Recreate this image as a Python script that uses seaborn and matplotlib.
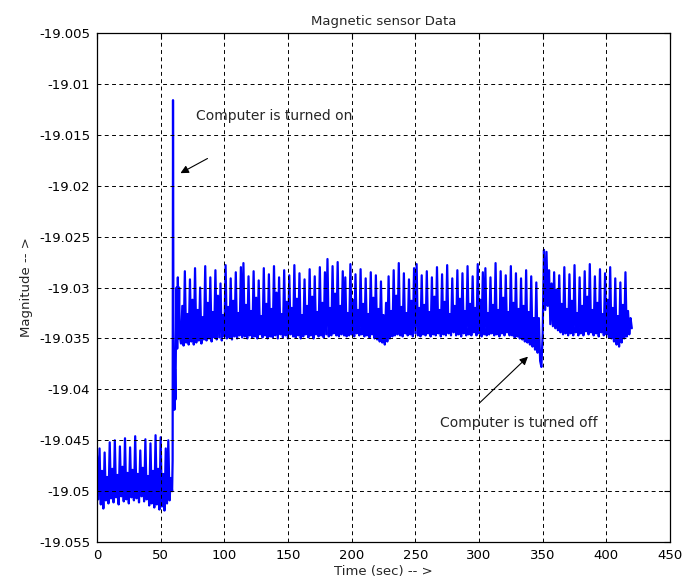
import numpy as np
import matplotlib
matplotlib.use("Agg")
import matplotlib.pyplot as plt
import seaborn as sns

# --- data ---
# computer off (1 s steps, t = 0..58)
before_t = np.arange(0, 59)
before_v = [
    -19.0465, -19.0508, -19.0458, -19.0513, -19.0480, -19.0517, -19.0462, -19.0509, -19.0486, -19.0512,
    -19.0452, -19.0507, -19.0478, -19.0511, -19.0450, -19.0506, -19.0484, -19.0513, -19.0456, -19.0505,
    -19.0476, -19.0510, -19.0448, -19.0508, -19.0482, -19.0512, -19.0457, -19.0506, -19.0479, -19.0509,
    -19.0446, -19.0507, -19.0483, -19.0511, -19.0460, -19.0505, -19.0477, -19.0510, -19.0449, -19.0508,
    -19.0485, -19.0514, -19.0453, -19.0512, -19.0480, -19.0516, -19.0445, -19.0513, -19.0478, -19.0518,
    -19.0447, -19.0515, -19.0483, -19.0519, -19.0458, -19.0512, -19.0450, -19.0509, -19.0487,
]

# switch-on transient
turn_on_t = [59.0, 59.4, 59.7, 60.0, 60.4, 60.8, 61.2, 61.6, 62.0, 62.5, 63.0, 63.5, 64.0, 64.5, 65.0]
turn_on_v = [-19.0500, -19.0470, -19.0116, -19.0320, -19.0395, -19.0420, -19.0380, -19.0410,
             -19.0355, -19.0300, -19.0360, -19.0290, -19.0350, -19.0300, -19.0348]

# computer on, switched off near 348 s (1 s steps, t = 66..420)
running_t = np.arange(66, 421)
running_v = [
    -19.0355, -19.0318, -19.0357, -19.0284, -19.0354, -19.0326, -19.0356, -19.0292, -19.0353, -19.0312,
    -19.0356, -19.0281, -19.0354, -19.0322, -19.0352, -19.0300, -19.0355, -19.0329, -19.0351, -19.0279,
    -19.0352, -19.0315, -19.0350, -19.0290, -19.0353, -19.0324, -19.0349, -19.0283, -19.0351, -19.0308,
    -19.0349, -19.0296, -19.0352, -19.0327, -19.0348, -19.0278, -19.0350, -19.0319, -19.0349, -19.0291,
    -19.0351, -19.0313, -19.0348, -19.0285, -19.0350, -19.0325, -19.0347, -19.0280, -19.0349, -19.0276,
    -19.0348, -19.0317, -19.0350, -19.0289, -19.0347, -19.0323, -19.0349, -19.0284, -19.0348, -19.0310,
    -19.0350, -19.0293, -19.0346, -19.0328, -19.0349, -19.0281, -19.0347, -19.0316, -19.0350, -19.0287,
    -19.0348, -19.0321, -19.0349, -19.0279, -19.0347, -19.0305, -19.0350, -19.0290, -19.0346, -19.0326,
    -19.0349, -19.0283, -19.0347, -19.0314, -19.0350, -19.0288, -19.0346, -19.0320, -19.0348, -19.0278,
    -19.0349, -19.0311, -19.0347, -19.0286, -19.0350, -19.0327, -19.0348, -19.0292, -19.0346, -19.0318,
    -19.0349, -19.0282, -19.0347, -19.0309, -19.0350, -19.0289, -19.0346, -19.0324, -19.0348, -19.0280,
    -19.0347, -19.0315, -19.0349, -19.0285, -19.0346, -19.0272, -19.0348, -19.0320, -19.0347, -19.0279,
    -19.0345, -19.0306, -19.0347, -19.0275, -19.0348, -19.0318, -19.0346, -19.0284, -19.0347, -19.0290,
    -19.0348, -19.0325, -19.0347, -19.0277, -19.0346, -19.0312, -19.0348, -19.0287, -19.0345, -19.0322,
    -19.0347, -19.0282, -19.0346, -19.0316, -19.0348, -19.0291, -19.0347, -19.0326, -19.0349, -19.0285,
    -19.0346, -19.0310, -19.0350, -19.0288, -19.0351, -19.0321, -19.0353, -19.0294, -19.0354, -19.0327,
    -19.0356, -19.0315, -19.0353, -19.0289, -19.0350, -19.0323, -19.0348, -19.0283, -19.0347, -19.0308,
    -19.0346, -19.0276, -19.0347, -19.0319, -19.0348, -19.0286, -19.0345, -19.0325, -19.0347, -19.0292,
    -19.0346, -19.0313, -19.0348, -19.0281, -19.0345, -19.0277, -19.0347, -19.0320, -19.0348, -19.0288,
    -19.0346, -19.0317, -19.0347, -19.0284, -19.0345, -19.0324, -19.0348, -19.0290, -19.0346, -19.0309,
    -19.0347, -19.0280, -19.0345, -19.0322, -19.0348, -19.0287, -19.0346, -19.0314, -19.0347, -19.0278,
    -19.0345, -19.0326, -19.0347, -19.0291, -19.0344, -19.0318, -19.0347, -19.0283, -19.0346, -19.0311,
    -19.0348, -19.0286, -19.0345, -19.0323, -19.0347, -19.0279, -19.0346, -19.0316, -19.0347, -19.0289,
    -19.0344, -19.0320, -19.0347, -19.0277, -19.0345, -19.0312, -19.0348, -19.0285, -19.0346, -19.0281,
    -19.0347, -19.0325, -19.0346, -19.0290, -19.0345, -19.0317, -19.0347, -19.0276, -19.0346, -19.0322,
    -19.0348, -19.0284, -19.0345, -19.0310, -19.0347, -19.0288, -19.0344, -19.0324, -19.0347, -19.0279,
    -19.0347, -19.0315, -19.0349, -19.0286, -19.0348, -19.0321, -19.0350, -19.0291, -19.0351, -19.0318,
    -19.0353, -19.0283, -19.0354, -19.0324, -19.0356, -19.0289, -19.0358, -19.0330, -19.0361, -19.0295,
    -19.0364, -19.0330, -19.0372, -19.0378, -19.0345, -19.0263, -19.0322, -19.0265, -19.0318, -19.0283,
    -19.0336, -19.0296, -19.0338, -19.0285, -19.0340, -19.0302, -19.0342, -19.0288, -19.0344, -19.0316,
    -19.0346, -19.0280, -19.0345, -19.0321, -19.0347, -19.0287, -19.0345, -19.0313, -19.0347, -19.0278,
    -19.0344, -19.0325, -19.0347, -19.0290, -19.0345, -19.0318, -19.0347, -19.0284, -19.0343, -19.0309,
    -19.0346, -19.0277, -19.0344, -19.0322, -19.0347, -19.0289, -19.0345, -19.0315, -19.0348, -19.0282,
    -19.0344, -19.0326, -19.0347, -19.0286, -19.0346, -19.0312, -19.0349, -19.0280, -19.0350, -19.0320,
    -19.0353, -19.0291, -19.0356, -19.0328, -19.0358, -19.0295, -19.0354, -19.0317, -19.0350, -19.0285,
    -19.0348, -19.0323, -19.0346, -19.0330, -19.0340,
]

x_ticks = [0, 50, 100, 150, 200, 250, 300, 350, 400, 450]
y_ticks = [-19.055, -19.05, -19.045, -19.04, -19.035, -19.03, -19.025, -19.02, -19.015, -19.01, -19.005]
y_tick_labels = ['-19.055', '-19.05', '-19.045', '-19.04', '-19.035', '-19.03',
                 '-19.025', '-19.02', '-19.015', '-19.01', '-19.005']

t = np.concatenate([before_t, turn_on_t, running_t])
v = np.concatenate([before_v, turn_on_v, running_v])

sns.set_theme(style="white")
plt.rcParams['font.family'] = ['DejaVu Sans']

fig = plt.figure(figsize=(6.83, 5.88), dpi=100)
ax = fig.add_axes([0.142, 0.078, 0.839, 0.866])

sns.lineplot(x=t, y=v, ax=ax, color='#0000ff', linewidth=1.6, estimator=None, sort=False)

ax.set_xlim(0, 450)
ax.set_ylim(-19.055, -19.005)
ax.set_xticks(x_ticks)
ax.set_xticklabels([str(x) for x in x_ticks])
ax.set_yticks(y_ticks)
ax.set_yticklabels(y_tick_labels)

# matlab look: black box, inward ticks, dashed grid on top of the data
for s in ax.spines.values():
    s.set_color('black')
    s.set_linewidth(0.9)
ax.tick_params(direction='in', length=4, width=0.8, top=True, right=True,
               labelsize=9.5, colors='black', pad=5)
ax.set_axisbelow(False)
ax.grid(True, color='black', linestyle=(0, (4, 3.5)), linewidth=0.7)

ax.set_title('Magnetic sensor Data', fontsize=9.5, pad=6)
ax.set_xlabel('Time (sec) -- >', fontsize=9.5, labelpad=2)
ax.set_ylabel('Magnitude -- >', fontsize=9.5, labelpad=4)

ax.text(78, -19.0132, 'Computer is turned on', fontsize=10, va='center')
ax.annotate('', xy=(63.6, -19.0189), xytext=(88.7, -19.0172),
            arrowprops=dict(arrowstyle='-|>', color='black', lw=0.8, mutation_scale=12))
ax.text(269, -19.0433, 'Computer is turned off', fontsize=10, va='center')
ax.annotate('', xy=(340, -19.0366), xytext=(299, -19.0415),
            arrowprops=dict(arrowstyle='-|>', color='black', lw=0.8, mutation_scale=12))

fig.savefig('out.png', dpi=100)
